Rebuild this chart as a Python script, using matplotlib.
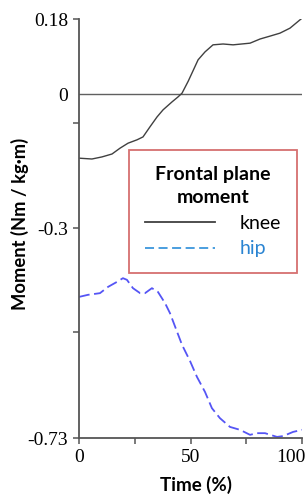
import matplotlib.pyplot as plt
from matplotlib.lines import Line2D
from matplotlib.transforms import ScaledTranslation

# knee frontal plane moment
knee_time = [0, 5.8, 10.3, 14.8, 18.4, 22.0, 26.0, 28.7, 31.8, 35.0, 37.7, 41.7,
             44.4, 46.2, 49.0, 53.4, 56.5, 60.1, 64.6, 69.1, 76.7, 81.2, 85.7,
             90.1, 94.6, 100]
knee_moment = [-0.154, -0.156, -0.151, -0.144, -0.130, -0.118, -0.110, -0.103,
               -0.079, -0.055, -0.038, -0.019, -0.007, 0.002, 0.031, 0.082, 0.101,
               0.118, 0.120, 0.118, 0.122, 0.132, 0.139, 0.146, 0.158, 0.182]

# hip frontal plane moment
hip_time = [0, 4.0, 9.4, 13.0, 17.0, 19.7, 21.5, 24.2, 27.4, 29.6, 32.7, 35.4,
            38.6, 40.8, 43.0, 46.2, 49.8, 52.9, 56.5, 59.6, 63.2, 67.7, 72.2,
            76.7, 79.8, 83.4, 88.8, 91.5, 96.0, 100]
hip_moment = [-0.487, -0.482, -0.478, -0.463, -0.451, -0.442, -0.446, -0.466,
              -0.478, -0.478, -0.466, -0.475, -0.502, -0.526, -0.557, -0.602,
              -0.641, -0.679, -0.715, -0.754, -0.778, -0.799, -0.806, -0.818,
              -0.814, -0.814, -0.823, -0.821, -0.811, -0.806]

x_ticks = [0, 25, 50, 75, 100]
x_labels = ["0", "", "50", "", "100"]
y_ticks = [0.18, 0, -0.0696, -0.3216, -0.5712, -0.8256]
y_labels = ["0.18", "0", "", "-0.3", "", "-0.73"]

fig = plt.figure(figsize=(3.07, 4.98), dpi=100)
ax = fig.add_axes([79 / 307, 60 / 498, 223 / 307, 419 / 498])

ax.plot([0, 100], [0, 0], color="#606060", lw=1.0)
ax.plot(knee_time, knee_moment, color="#404040", lw=1.0)
ax.plot(hip_time, hip_moment, color="#5555f5", lw=1.3, dashes=(6, 2.5))

ax.set_xlim(0, 100)
ax.set_ylim(-0.8256, 0.18)
ax.set_xticks(x_ticks)
ax.set_xticklabels(x_labels)
ax.set_yticks(y_ticks)
ax.set_yticklabels(y_labels)
ax.yaxis.get_major_ticks()[1].tick1line.set_visible(False)

for s in ["top", "right"]:
    ax.spines[s].set_visible(False)
for s in ["left", "bottom"]:
    ax.spines[s].set_color("#555555")
    ax.spines[s].set_linewidth(1.3)
ax.tick_params(length=4, width=1.1, color="#555555", pad=4, labelsize=14)
for lab in ax.get_xticklabels() + ax.get_yticklabels():
    lab.set_family("Liberation Serif")
# keep "100" inside the figure
last = ax.get_xticklabels()[-1]
last.set_transform(last.get_transform() + ScaledTranslation(-0.11, 0, fig.dpi_scale_trans))

fig.text(20 / 307, 1 - 224 / 498, "Moment (Nm / kg·m)", rotation=90,
         ha="center", va="center", fontsize=13.2, fontweight="bold", family="Lato")
fig.text(196 / 307, 1 - 485 / 498, "Time (%)", ha="center", va="center",
         fontsize=13.5, fontweight="bold", family="Lato")

handles = [Line2D([], [], color="#404040", lw=1.3),
           Line2D([], [], color="#3c96dc", lw=1.3, dashes=(5, 2.5))]
leg = ax.legend(handles, ["knee", "hip"], title="Frontal plane\nmoment",
                loc="upper left", bbox_to_anchor=(129 / 307, 1 - 150 / 498),
                bbox_transform=fig.transFigure, borderaxespad=0,
                fancybox=False, framealpha=1, edgecolor="#d67070",
                prop={"family": "Lato", "size": 14},
                title_fontproperties={"family": "Lato", "size": 14, "weight": "bold"},
                labelcolor=["black", "#2a84d2"], handlelength=3.6,
                handletextpad=1.3, borderpad=0.8, labelspacing=0.45)
leg.get_frame().set_linewidth(1.3)
leg.get_title().set_multialignment("center")
leg.get_title().set_linespacing(1.45)

fig.savefig("out.png", dpi=100)
